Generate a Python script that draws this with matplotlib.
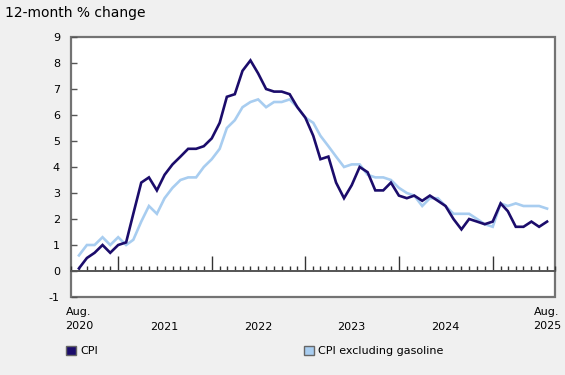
import pandas as pd
import matplotlib
matplotlib.use("Agg")
import matplotlib.pyplot as plt
import matplotlib.dates as mdates
import matplotlib.transforms as mtransforms
from matplotlib.patches import Patch

plt.rcParams["axes.unicode_minus"] = False

# monthly 12-month % change, Aug 2020 .. Aug 2025
months = pd.date_range("2020-08-01", "2025-08-01", freq="MS")

cpi = [0.1, 0.5, 0.7, 1.0, 0.7,
       1.0, 1.1, 2.2, 3.4, 3.6, 3.1, 3.7, 4.1, 4.4, 4.7, 4.7, 4.8,
       5.1, 5.7, 6.7, 6.8, 7.7, 8.1, 7.6, 7.0, 6.9, 6.9, 6.8, 6.3,
       5.9, 5.2, 4.3, 4.4, 3.4, 2.8, 3.3, 4.0, 3.8, 3.1, 3.1, 3.4,
       2.9, 2.8, 2.9, 2.7, 2.9, 2.7, 2.5, 2.0, 1.6, 2.0, 1.9, 1.8,
       1.9, 2.6, 2.3, 1.7, 1.7, 1.9, 1.7, 1.9]

cpi_ex_gas = [0.6, 1.0, 1.0, 1.3, 1.0,
              1.3, 1.0, 1.2, 1.9, 2.5, 2.2, 2.8, 3.2, 3.5, 3.6, 3.6, 4.0,
              4.3, 4.7, 5.5, 5.8, 6.3, 6.5, 6.6, 6.3, 6.5, 6.5, 6.6, 6.3,
              5.9, 5.7, 5.2, 4.8, 4.4, 4.0, 4.1, 4.1, 3.7, 3.6, 3.6, 3.5,
              3.2, 3.0, 2.9, 2.5, 2.8, 2.8, 2.5, 2.2, 2.2, 2.2, 2.0, 1.8,
              1.7, 2.6, 2.5, 2.6, 2.5, 2.5, 2.5, 2.4]

year_labels = ["2021", "2022", "2023", "2024"]
end_labels = ["Aug.\n2020", "Aug.\n2025"]

dark = "#1b0c6b"
light = "#a8cdf0"
frame = "#737373"

fig = plt.figure(figsize=(5.65, 3.75), dpi=100, facecolor="#f0f0f0")
ax = fig.add_axes([71/565, 1 - 297/375, 484/565, 260/375])

ax.plot(months, cpi_ex_gas, color=light, lw=1.9, solid_joinstyle="miter")
ax.plot(months, cpi, color=dark, lw=1.9, solid_joinstyle="miter")

ax.set_ylim(-1, 9)
ax.set_yticks(range(-1, 10))
ax.set_xlim(pd.Timestamp("2020-07-01"), pd.Timestamp("2025-09-01"))

# frame drawn by axes patch, bottom spine moved to the zero line
ax.patch.set_edgecolor(frame)
ax.patch.set_linewidth(1.6)
for s in ["top", "right", "left"]:
    ax.spines[s].set_visible(False)
ax.spines["bottom"].set_position(("data", 0))
ax.spines["bottom"].set_color("#555555")
ax.spines["bottom"].set_linewidth(1.4)

ax.xaxis.set_major_locator(mdates.YearLocator())
ax.xaxis.set_minor_locator(mdates.MonthLocator())
ax.tick_params(axis="x", which="major", direction="in", length=10.5, width=1, color="#333333", labelbottom=False)
ax.tick_params(axis="x", which="minor", direction="in", length=3.5, width=1, color="#333333")
ax.tick_params(axis="y", direction="in", length=4, width=1, color="#555555", labelsize=8, pad=8)

trans = mtransforms.blended_transform_factory(ax.transData, ax.transAxes)
for lab in year_labels:
    ax.text(pd.Timestamp(lab + "-07-01"), -0.115, lab, transform=trans,
            ha="center", va="center", fontsize=8)
for d, lab in zip([months[0], months[-1]], end_labels):
    ax.text(d, -0.085, lab, transform=trans, ha="center", va="center",
            fontsize=8, linespacing=1.45)

fig.text(5/565, 1 - 13/375, "12-month % change", fontsize=10, va="center", ha="left")

handles = [Patch(facecolor=dark, edgecolor="#666666", lw=1),
           Patch(facecolor=light, edgecolor="#666666", lw=1)]
fig.legend(handles, ["CPI", "CPI excluding gasoline"], ncol=2, frameon=False,
           loc="center left", bbox_to_anchor=(66/565, 1 - 351/375),
           fontsize=8, handlelength=0.9, handleheight=0.9, handletextpad=0.4,
           columnspacing=18.5, borderpad=0, borderaxespad=0)

fig.savefig("out.png", dpi=100, facecolor=fig.get_facecolor())
